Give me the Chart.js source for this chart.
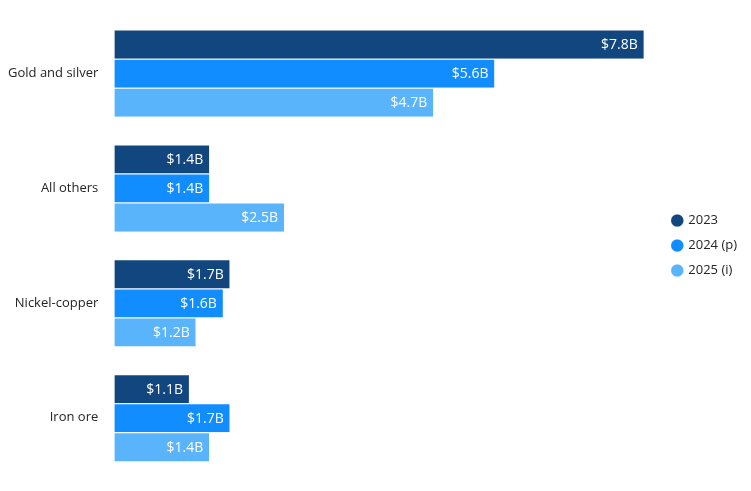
<!DOCTYPE html>
<html>
<head>
<meta charset="utf-8">
<script src="https://cdn.jsdelivr.net/npm/chart.js@4"></script>
<style>
    html, body { margin: 0; padding: 0; background: #fff; }
    #chart { display: block; }
</style>
</head>
<body>
<canvas id="chart" width="751" height="491"></canvas>
<script>
const categories = ["Gold and silver", "All others", "Nickel-copper", "Iron ore"];
const series2023 = [7.8, 1.4, 1.7, 1.1];
const series2024 = [5.6, 1.4, 1.6, 1.7];
const series2025 = [4.7, 2.5, 1.2, 1.4];
const seriesLabels = ["2023", "2024 (p)", "2025 (i)"];
const seriesColors = ["#12467f", "#118dff", "#5ab4fb"];

const barLabels = {
    id: "barLabels",
    afterDatasetsDraw(chart) {
        const ctx = chart.ctx;
        ctx.save();
        ctx.font = "14px 'Open Sans', sans-serif";
        ctx.fillStyle = "#fff";
        ctx.textAlign = "right";
        ctx.textBaseline = "middle";
        chart.data.datasets.forEach((ds, i) => {
            chart.getDatasetMeta(i).data.forEach((bar, j) => {
                ctx.fillText("$" + ds.data[j].toFixed(1) + "B", bar.x - 6, bar.y + 1);
            });
        });
        ctx.restore();
    },
};

new Chart(document.getElementById("chart").getContext("2d"), {
    type: "bar",
    data: {
        labels: categories,
        datasets: [series2023, series2024, series2025].map((d, i) => ({
            label: seriesLabels[i],
            data: d,
            backgroundColor: seriesColors[i],
            borderColor: "#fff",
            borderWidth: { top: 1, bottom: 0, left: 0, right: 0 },
            borderSkipped: false,
            barPercentage: 1,
            categoryPercentage: 0.76,
        })),
    },
    options: {
        indexAxis: "y",
        responsive: false,
        animation: false,
        layout: { padding: { top: 0, bottom: 0, left: 0, right: 4 } },
        scales: {
            x: { display: false, min: 0, max: 8.05 },
            y: {
                grid: { display: false },
                border: { display: false },
                ticks: { color: "#252423", font: { family: "'Open Sans', sans-serif", size: 13 }, padding: 8 },
            },
        },
        plugins: {
            legend: {
                position: "right",
                labels: {
                    usePointStyle: true,
                    pointStyle: "circle",
                    boxWidth: 9,
                    boxHeight: 9,
                    padding: 12,
                    color: "#252423",
                    font: { family: "'Open Sans', sans-serif", size: 13 },
                },
            },
            tooltip: { enabled: false },
        },
    },
    plugins: [barLabels],
});
</script>
</body>
</html>
